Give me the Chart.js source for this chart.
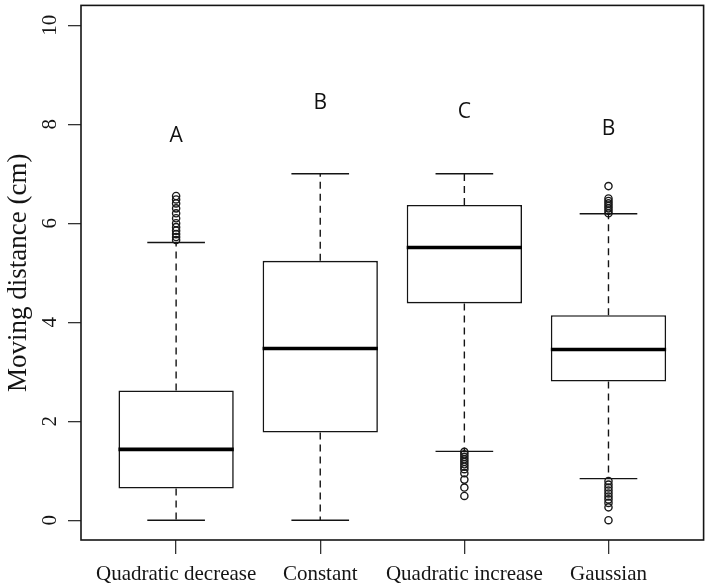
<!DOCTYPE html>
<html>
<head>
<meta charset="utf-8">
<script src="https://cdn.jsdelivr.net/npm/chart.js@4.4.1/dist/chart.umd.min.js"></script>
<style>
    html, body { margin: 0; padding: 0; background: #fff; }
    #wrap { width: 709px; height: 588px; position: relative; }
</style>
</head>
<body>
<div id="wrap"><canvas id="boxChart"></canvas></div>
<script>
// Box plot data
const categories = ['Quadratic decrease', 'Constant', 'Quadratic increase', 'Gaussian'];
const positions = [1, 2, 3, 4];
const whiskerLow = [0.0, 0.0, 1.39, 0.84];
const q1 = [0.64, 1.77, 4.38, 2.80];
const medians = [1.43, 3.47, 5.51, 3.45];
const q3 = [2.62, 5.24, 6.37, 4.14];
const whiskerHigh = [5.61, 7.0, 7.0, 6.19];
const outliers = [
    [6.55, 6.48, 6.40, 6.30, 6.20, 6.10, 6.00, 5.92, 5.85, 5.78, 5.72, 5.66],
    [],
    [1.38, 1.33, 1.28, 1.23, 1.18, 1.13, 1.08, 1.03, 0.95, 0.82, 0.66, 0.49],
    [6.75, 6.50, 6.45, 6.40, 6.35, 6.30, 6.25, 6.20, 0.79, 0.72, 0.66, 0.60, 0.54, 0.48, 0.42, 0.35, 0.26, 0.0]
];
const letters = ['A', 'B', 'C', 'B'];
const letterY = [7.77, 8.43, 8.25, 7.90];
const yTicks = [0, 2, 4, 6, 8, 10];

const serif = '"Liberation Serif", "DejaVu Serif", serif';
const ink = '#141414';

// whiskers, caps, medians, letters, frame and rotated y labels
const boxParts = {
    id: 'boxParts',
    afterDatasetsDraw(chart) {
        const { ctx, scales: { x, y } } = chart;
        ctx.save();
        ctx.strokeStyle = ink;
        positions.forEach((pos, i) => {
            const cx = x.getPixelForValue(pos);
            const capL = x.getPixelForValue(pos - 0.2);
            const capR = x.getPixelForValue(pos + 0.2);
            const boxL = x.getPixelForValue(pos - 0.4);
            const boxR = x.getPixelForValue(pos + 0.4);

            // dashed whiskers
            ctx.lineWidth = 1.4;
            ctx.setLineDash([7, 5]);
            ctx.beginPath();
            ctx.moveTo(cx, y.getPixelForValue(q3[i]));
            ctx.lineTo(cx, y.getPixelForValue(whiskerHigh[i]));
            ctx.moveTo(cx, y.getPixelForValue(q1[i]));
            ctx.lineTo(cx, y.getPixelForValue(whiskerLow[i]));
            ctx.stroke();
            ctx.setLineDash([]);

            // caps
            ctx.beginPath();
            ctx.moveTo(capL, y.getPixelForValue(whiskerHigh[i]));
            ctx.lineTo(capR, y.getPixelForValue(whiskerHigh[i]));
            ctx.moveTo(capL, y.getPixelForValue(whiskerLow[i]));
            ctx.lineTo(capR, y.getPixelForValue(whiskerLow[i]));
            ctx.stroke();

            // median
            ctx.lineWidth = 3.6;
            ctx.strokeStyle = '#000';
            ctx.beginPath();
            ctx.moveTo(boxL, y.getPixelForValue(medians[i]));
            ctx.lineTo(boxR, y.getPixelForValue(medians[i]));
            ctx.stroke();
            ctx.strokeStyle = ink;

            // significance letters
            ctx.fillStyle = '#111';
            ctx.font = '500 21px "Open Sans", sans-serif';
            ctx.textAlign = 'center';
            ctx.textBaseline = 'middle';
            ctx.fillText(letters[i], cx, y.getPixelForValue(letterY[i]));
        });
        ctx.restore();
    },
    afterDraw(chart) {
        const { ctx, chartArea: a, scales: { y } } = chart;
        ctx.save();
        ctx.strokeStyle = ink;
        ctx.lineWidth = 1.6;
        ctx.strokeRect(a.left, a.top, a.right - a.left, a.bottom - a.top);

        // R-style y tick labels, rotated
        ctx.fillStyle = ink;
        ctx.font = '21px ' + serif;
        ctx.textAlign = 'center';
        ctx.textBaseline = 'middle';
        yTicks.forEach(v => {
            ctx.save();
            ctx.translate(50, y.getPixelForValue(v));
            ctx.rotate(-Math.PI / 2);
            ctx.fillText(String(v), 0, 0);
            ctx.restore();
        });
        ctx.restore();
    }
};

const boxData = positions.map((p, i) => ({ x: p, y: [q1[i], q3[i]] }));
const outlierData = [];
outliers.forEach((list, i) => list.forEach(v => outlierData.push({ x: positions[i], y: v })));

new Chart(document.getElementById('boxChart').getContext('2d'), {
    type: 'bar',
    data: {
        datasets: [
            {
                label: 'IQR',
                data: boxData,
                backgroundColor: '#fff',
                borderColor: ink,
                borderWidth: 1.6,
                borderSkipped: false,
                categoryPercentage: 0.8,
                barPercentage: 1.0
            },
            {
                type: 'scatter',
                label: 'Outliers',
                data: outlierData,
                pointStyle: 'circle',
                pointRadius: 3.6,
                borderWidth: 1.4,
                borderColor: '#1a1a1a',
                backgroundColor: 'rgba(0,0,0,0)'
            }
        ]
    },
    options: {
        responsive: true,
        maintainAspectRatio: false,
        animation: false,
        layout: { padding: { top: 3, right: 4, left: 0, bottom: 0 } },
        plugins: {
            legend: { display: false },
            tooltip: { enabled: false }
        },
        scales: {
            x: {
                type: 'linear',
                min: 0.34,
                max: 4.66,
                offset: false,
                afterBuildTicks: s => { s.ticks = positions.map(v => ({ value: v })); },
                afterFit: s => { s.height = 48; },
                ticks: {
                    callback: v => categories[positions.indexOf(v)],
                    font: { family: serif, size: 21 },
                    color: ink,
                    padding: 8,
                    autoSkip: false,
                    maxRotation: 0
                },
                grid: { offset: false, drawOnChartArea: false, drawTicks: true, tickLength: 14, color: '#333', lineWidth: 1.3 },
                border: { display: false }
            },
            y: {
                min: -0.4,
                max: 10.4,
                afterBuildTicks: s => { s.ticks = yTicks.map(v => ({ value: v })); },
                afterFit: s => { s.width = 81; },
                ticks: { display: false },
                grid: { drawOnChartArea: false, drawTicks: true, tickLength: 13, color: '#333', lineWidth: 1.3 },
                border: { display: false },
                title: {
                    display: true,
                    text: 'Moving distance (cm)',
                    font: { family: serif, size: 27 },
                    color: ink,
                    padding: { top: 3, bottom: 0 }
                }
            }
        }
    },
    plugins: [boxParts]
});
</script>
</body>
</html>
